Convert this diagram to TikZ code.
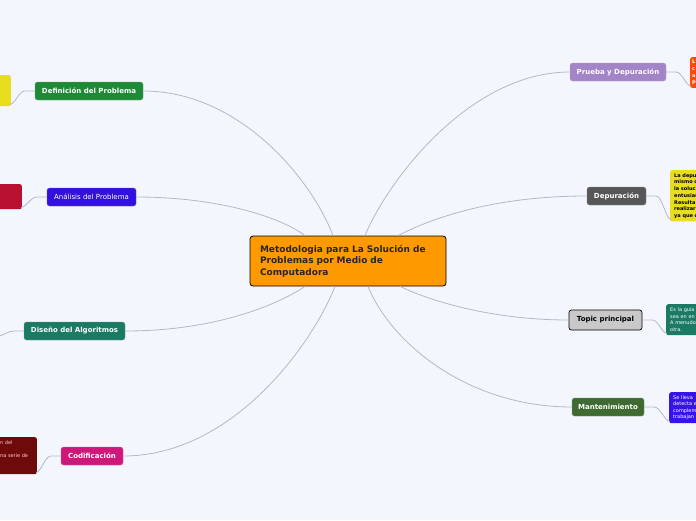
\documentclass[tikz,border=0pt]{standalone}
\usepackage{fontspec}
\setmainfont{DejaVu Sans}
\usetikzlibrary{calc}
\definecolor{bgblue}{HTML}{F4F6FE}
\definecolor{linkgray}{HTML}{B4B8C6}
\definecolor{rootorange}{HTML}{FF9900}
\definecolor{defgreen}{HTML}{1E8A36}
\definecolor{anablue}{HTML}{3311DD}
\definecolor{disteal}{HTML}{1A7A64}
\definecolor{codmagenta}{HTML}{CF177A}
\definecolor{prulavender}{HTML}{A384C6}
\definecolor{depgray}{HTML}{575757}
\definecolor{topgray}{HTML}{C9C9C9}
\definecolor{manolive}{HTML}{3F6B32}
\definecolor{leafyellow}{HTML}{E9DE1E}
\definecolor{leafcrimson}{HTML}{B8102F}
\definecolor{leafdarkred}{HTML}{6E0A0A}
\definecolor{leaforange}{HTML}{FF4A05}
\definecolor{leafblue}{HTML}{3713E8}

\begin{document}
\begin{tikzpicture}[x=1pt, y=-1pt,
  link/.style={draw=linkgray, line width=0.8pt},
  branch/.style={rounded corners=2.5pt, inner sep=0pt, minimum height=18pt, text=white, font=\fontsize{7}{8}\selectfont\bfseries},
  leaf/.style={rounded corners=2pt, inner sep=3pt, align=left, font=\fontsize{5}{6.6}\selectfont}
]
  \useasboundingbox (0,0) rectangle (696,520);
  \fill[bgblue] (0,0) rectangle (696,520);
  \clip (0,0) rectangle (696,520);

  \node[draw=black, line width=0.8pt, fill=rootorange, rounded corners=3pt, minimum width=196pt, minimum height=50pt, text width=176pt, inner sep=0pt, align=left, font=\fontsize{9}{11.5}\selectfont\bfseries, text=black!85] (root) at (348,261)
    {Metodologia para La Solución de\\Problemas por Medio de\\Computadora};

  \node[branch, fill=defgreen, draw=defgreen!70!white, minimum width=108pt] (def) at (89,91) {Definición del Problema};
  \node[branch, fill=anablue, draw=anablue!70!white, minimum width=89pt, font=\fontsize{7}{8}\selectfont] (ana) at (91.5,197) {Análisis del Problema};
  \node[branch, fill=disteal, draw=disteal!70!white, minimum width=101pt] (dis) at (74.5,331) {Diseño del Algoritmos};
  \node[branch, fill=codmagenta, draw=codmagenta!70!white, minimum width=62pt] (cod) at (92,456) {Codificación};
  \node[branch, fill=prulavender, draw=prulavender!70!white, minimum width=96pt] (pru) at (618,72) {Prueba y Depuración};
  \node[branch, fill=depgray, draw=depgray!70!white, minimum width=59pt] (dep) at (616.5,196) {Depuración};
  \node[branch, fill=topgray, draw=black, line width=0.7pt, minimum width=73pt, minimum height=20pt, text=black] (top) at (605.5,320) {Topic principal};
  \node[branch, fill=manolive, draw=manolive!70!white, minimum width=72pt] (man) at (608,407) {Mantenimiento};

  \node[leaf, fill=leafyellow, minimum width=62pt, minimum height=31pt, anchor=north east] (defleaf) at (11,75) {};
  \node[leaf, fill=leafcrimson, minimum width=64pt, minimum height=25pt, anchor=north east] (analeaf) at (22,184) {};
  \coordinate (disleaf) at (-2,336);
  \node[leaf, fill=leafdarkred, minimum width=80pt, minimum height=37pt, anchor=north east] (codleaf) at (37,437) {};
  \node[leaf, anchor=north west, inner sep=0pt, text=pink!80!white, font=\fontsize{5}{13}\selectfont] (codtext) at (0,440) {n del\\na serie de};

  \node[leaf, fill=leaforange, minimum height=30pt, text width=40pt, inner xsep=2pt, anchor=north west, text=white, font=\fontsize{5}{7}\selectfont\bfseries] (pruleaf) at (690,57) {L\\c\\a\\P};
  \node[leaf, fill=leafyellow, minimum height=51pt, text width=50pt, inner xsep=4pt, anchor=north west, font=\fontsize{5}{6.7}\selectfont\bfseries] (depleaf) at (670,170)
    {La depuración\\mismo con\\la solución\\entusiasmo\\Resulta\\realizar\\ya que con};
  \node[leaf, fill=disteal, minimum height=31pt, text width=50pt, inner xsep=4pt, anchor=north west, text=white] (topleaf) at (666,304)
    {Es la guía\\sea en en\\A menudo\\otra.};
  \node[leaf, fill=leafblue, minimum height=31pt, text width=50pt, inner xsep=4pt, anchor=north west, text=white] (manleaf) at (669,392)
    {Se lleva\\detecta el\\complementa\\trabajan};

  \draw[link] (def.east) .. controls (240,91) and (312,180) .. ($(root.north)+(-15,0)$);
  \draw[link] (ana.east) .. controls (220,197) and (282,218) .. ($(root.north)+(-43,0)$);
  \draw[link] (dis.east) .. controls (220,331) and (282,302) .. ($(root.south)+(-43,0)$);
  \draw[link] (cod.east) .. controls (232,456) and (312,345) .. ($(root.south)+(-13,0)$);
  \draw[link] (pru.west) .. controls (470,72) and (388,180) .. ($(root.north)+(17,0)$);
  \draw[link] (dep.west) .. controls (490,196) and (428,220) .. ($(root.north)+(50,0)$);
  \draw[link] (top.west) .. controls (490,320) and (428,300) .. ($(root.south)+(52,0)$);
  \draw[link] (man.west) .. controls (470,407) and (392,345) .. ($(root.south)+(20,0)$);

  \draw[link] (def.west) -- ++(-10,0) .. controls +(-6,0) and +(5,0) .. ($(defleaf.south east)+(-1,-2)$);
  \draw[link] (ana.west) -- ++(-10,0) .. controls +(-6,0) and +(5,0) .. ($(analeaf.south east)+(-1,-2)$);
  \draw[link] (dis.west) -- ++(-10,0) .. controls +(-6,0) and +(5,0) .. (disleaf);
  \draw[link] (cod.west) -- ++(-10,0) .. controls +(-6,0) and +(5,0) .. ($(codleaf.south east)+(-1,-2)$);
  \draw[link] (pru.east) -- ++(10,0) .. controls +(6,0) and +(-5,0) .. ($(pruleaf.south west)+(1,-2)$);
  \draw[link] (dep.east) -- ++(10,0) .. controls +(6,0) and +(-5,0) .. ($(depleaf.south west)+(1,-2)$);
  \draw[link] (top.east) -- ++(10,0) .. controls +(6,0) and +(-5,0) .. ($(topleaf.south west)+(1,-2)$);
  \draw[link] (man.east) -- ++(10,0) .. controls +(6,0) and +(-5,0) .. ($(manleaf.south west)+(1,-2)$);
\end{tikzpicture}
\end{document}
